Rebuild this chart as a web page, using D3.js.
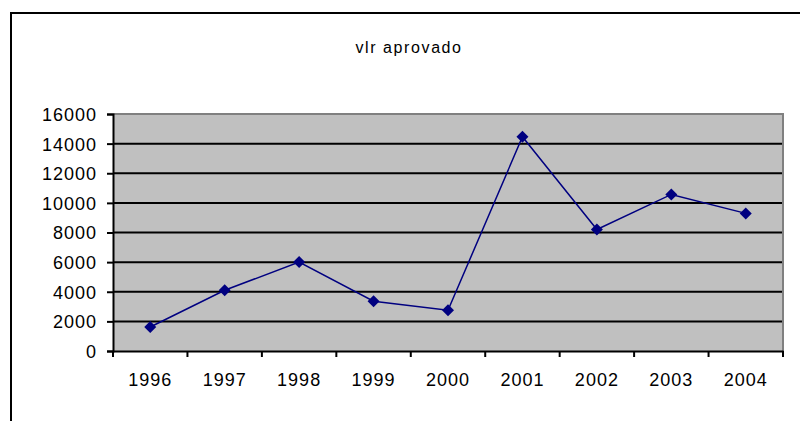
<!DOCTYPE html>
<html>
<head>
<meta charset="utf-8">
<script src="https://cdn.jsdelivr.net/npm/d3@7"></script>
<style>
  body { margin: 0; background: #fff; }
  svg text { font-family: Arial, "Liberation Sans", sans-serif; fill: #000; }
</style>
</head>
<body>
<svg id="chart" width="800" height="421"></svg>
<script>
//chart data
const years = ["1996", "1997", "1998", "1999", "2000", "2001", "2002", "2003", "2004"];
const vlrAprovado = [1620, 4100, 6000, 3360, 2750, 14460, 8200, 10570, 9290];
const yTicks = [0, 2000, 4000, 6000, 8000, 10000, 12000, 14000, 16000];
const chartTitle = "vlr aprovado";

(function(){
  const svg = d3.select("#chart");

  //plot area
  const left = 113, right = 783, top = 114, bottom = 351;

  //outer frame (runs off the right and bottom)
  svg.append("path")
    .attr("d", "M11,421 V13 H800")
    .attr("fill", "none")
    .attr("stroke", "#000")
    .attr("stroke-width", 2);

  svg.append("text")
    .attr("x", 409)
    .attr("y", 53)
    .attr("text-anchor", "middle")
    .style("font-size", "16px")
    .style("letter-spacing", "1.6px")
    .text(chartTitle);

  const x = d3.scaleBand().domain(years).range([left, right]);
  const y = d3.scaleLinear().domain([0, 16000]).range([bottom, top]);

  //background
  svg.append("rect")
    .attr("x", left).attr("y", top)
    .attr("width", right - left).attr("height", bottom - top)
    .attr("fill", "#c0c0c0");

  //gridlines
  svg.append("g")
    .selectAll("line")
    .data(yTicks.filter(d => d > 0 && d < 16000))
    .join("line")
    .attr("x1", left).attr("x2", right)
    .attr("y1", d => y(d)).attr("y2", d => y(d))
    .attr("stroke", "#000")
    .attr("stroke-width", 2);

  //gray top and right border
  svg.append("path")
    .attr("d", `M${left},${top} H${right} V${bottom}`)
    .attr("fill", "none")
    .attr("stroke", "#808080")
    .attr("stroke-width", 2);

  //y axis
  const yAxis = d3.axisLeft(y).tickValues(yTicks).tickSize(6).tickPadding(10).tickFormat(d3.format("d"));
  const gy = svg.append("g")
    .attr("transform", `translate(${left},0)`)
    .call(yAxis);
  gy.select(".domain").attr("stroke", "#000").attr("stroke-width", 2);
  gy.selectAll(".tick line").attr("stroke", "#000").attr("stroke-width", 2);
  gy.selectAll(".tick text")
    .style("font-size", "18px")
    .style("letter-spacing", "1px")
    .attr("dy", "0.36em");

  //x axis
  const xAxis = d3.axisBottom(x).tickSize(0).tickPadding(22);
  const gx = svg.append("g")
    .attr("transform", `translate(0,${bottom})`)
    .call(xAxis);
  gx.select(".domain").attr("stroke", "#000").attr("stroke-width", 2);
  gx.selectAll(".tick text")
    .style("font-size", "18px")
    .style("letter-spacing", "1px");

  //x tick marks on category boundaries
  gx.selectAll(".bound")
    .data(years.concat(["end"]))
    .join("line")
    .attr("class", "bound")
    .attr("x1", (d, i) => left + i * x.step())
    .attr("x2", (d, i) => left + i * x.step())
    .attr("y1", 0).attr("y2", 6)
    .attr("stroke", "#000")
    .attr("stroke-width", 2);

  //series line
  const line = d3.line()
    .x((d, i) => x(years[i]) + x.bandwidth() / 2)
    .y(d => y(d));

  svg.append("path")
    .datum(vlrAprovado)
    .attr("d", line)
    .attr("fill", "none")
    .attr("stroke", "#000080")
    .attr("stroke-width", 1.5);

  //diamond markers
  svg.append("g")
    .selectAll("path")
    .data(vlrAprovado)
    .join("path")
    .attr("d", d3.symbol().type(d3.symbolSquare).size(72))
    .attr("transform", (d, i) => `translate(${x(years[i]) + x.bandwidth() / 2},${y(d)}) rotate(45)`)
    .attr("fill", "#000080");
})();
</script>
</body>
</html>
